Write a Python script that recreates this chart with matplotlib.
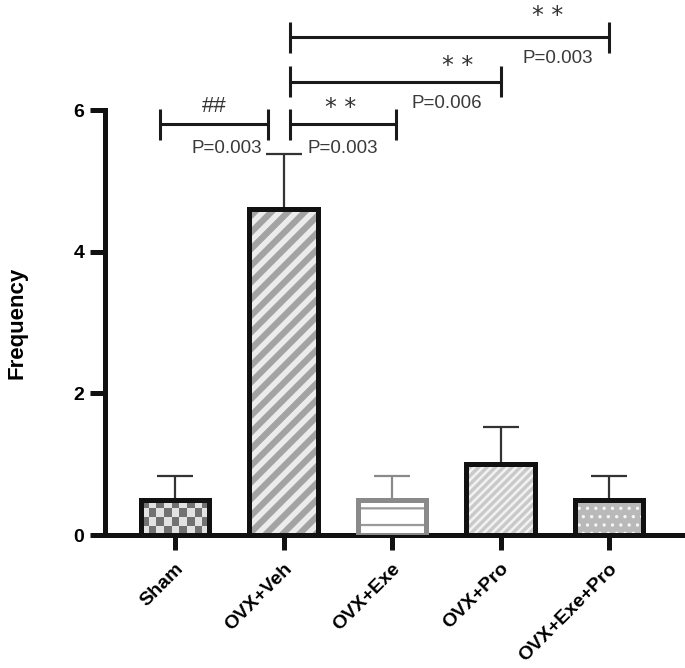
import numpy as np
import matplotlib
matplotlib.use("Agg")
import matplotlib.pyplot as plt

plt.rcParams['font.family'] = ['Liberation Sans', 'DejaVu Sans']

# data
groups = ["Sham", "OVX+Veh", "OVX+Exe", "OVX+Pro", "OVX+Exe+Pro"]
means = [0.5, 4.6, 0.5, 1.0, 0.5]
sems = [0.33, 0.78, 0.33, 0.53, 0.33]

# bar styles: face, hatch, hatch colour, edge colour
faces = ["#dcdcdc", "#ececec", "white", "#c9c9c9", "#b9b9b9"]
hatches = [None, "//", "-", "////", ".."]
hatch_cols = ["#777777", "#a3a3a3", "#9a9a9a", "#f2f2f2", "#f6f6f6"]
hatch_lw = [1.0, 4.5, 1.6, 1.8, 1.2]
edges = ["#111111", "#111111", "#8a8a8a", "#111111", "#111111"]

# significance brackets: x1, x2, y, symbol, p-text, p-x, p-y
brackets = [
    (-0.14, 0.86, 5.80, "##", "P=0.003", 0.80, 5.46),
    (1.06, 2.04, 5.80, "* *", "P=0.003", 1.87, 5.46),
    (1.06, 3.00, 6.40, "* *", "P=0.006", 2.83, 6.10),
    (1.06, 4.00, 7.03, "* *", "P=0.003", 3.85, 6.73),
]
sym_pos = [(0.36, 6.05), (1.53, 6.03), (2.60, 6.63), (3.43, 7.33)]

fig = plt.figure(figsize=(6.85, 6.68), dpi=100)
ax = fig.add_axes([0.1533, 0.199, 0.8467, 0.636])

x = np.arange(len(groups))
width = 0.63

for i in range(len(groups)):
    if hatches[i] is None:
        # checkerboard fill for Sham
        inner = ax.bar(x[i], means[i], width, color=faces[i], linewidth=0, zorder=2)[0]
        checker = (np.indices((4, 9)).sum(axis=0) % 2).astype(float)
        img = ax.imshow(checker, cmap=matplotlib.colors.ListedColormap(["#727272", "#e2e2e2"]),
                        extent=(x[i] - width / 2, x[i] + width / 2, 0, means[i]),
                        aspect='auto', interpolation='nearest', zorder=2.5)
        img.set_clip_path(inner)
    else:
        with plt.rc_context({'hatch.linewidth': hatch_lw[i]}):
            b = ax.bar(x[i], means[i], width, color=faces[i], edgecolor=hatch_cols[i],
                       hatch=hatches[i], linewidth=0, zorder=2)[0]
            if hasattr(b, "set_hatch_linewidth"):
                b.set_hatch_linewidth(hatch_lw[i])
    ax.bar(x[i], means[i], width, fill=False, edgecolor=edges[i], linewidth=3.6, zorder=3)
    ecol = "#8a8a8a" if edges[i] == "#8a8a8a" else "#333333"
    ax.errorbar(x[i], means[i], yerr=[[0], [sems[i]]], fmt='none', ecolor=ecol,
                elinewidth=1.6, capsize=13, capthick=1.6, zorder=1)

for (x1, x2, y, sym, ptxt, px, py), (sx, sy) in zip(brackets, sym_pos):
    ax.plot([x1, x2], [y, y], color="#1a1a1a", lw=2.2, clip_on=False, solid_capstyle='butt')
    for xe in (x1, x2):
        ax.plot([xe, xe], [y - 0.22, y + 0.22], color="#1a1a1a", lw=2.2, clip_on=False,
                solid_capstyle='butt')
    if sym == "##":
        ax.text(sx, sy, sym, ha='center', va='center', fontsize=16, color="#333333", clip_on=False)
    else:
        ax.text(sx, sy, sym, ha='center', va='center', fontsize=17, color="#333333",
                clip_on=False, family='DejaVu Sans')
    ax.text(px, py, ptxt, ha='right', va='center', fontsize=13.5, color="#3a3a3a", clip_on=False)

ax.set_xlim(-0.645, 4.70)
ax.set_ylim(0, 6)
for s in ['top', 'right']:
    ax.spines[s].set_visible(False)
for s in ['left', 'bottom']:
    ax.spines[s].set_linewidth(3.6)
    ax.spines[s].set_color("#111111")

ax.set_yticks([0, 2, 4, 6])
ax.set_yticklabels(["0", "2", "4", "6"], fontsize=14, fontweight='bold')
ax.set_xticks(x)
ax.set_xticklabels(groups, rotation=45, ha='right', rotation_mode='anchor',
                   fontsize=14, fontweight='bold')
ax.tick_params(axis='both', length=11, width=3.6, color="#111111")
ax.tick_params(axis='y', pad=4)
ax.tick_params(axis='x', pad=7)
ax.set_ylabel("Frequency", fontsize=16, fontweight='bold', labelpad=33)

fig.savefig("out.png", dpi=100)
